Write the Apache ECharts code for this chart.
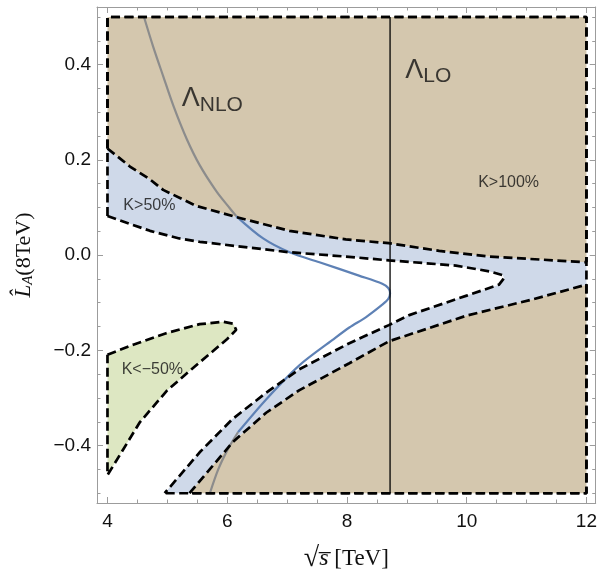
<!DOCTYPE html>
<html><head><meta charset="utf-8">
<script src="https://cdn.jsdelivr.net/npm/echarts@6/dist/echarts.min.js"></script>
<style>html,body{margin:0;padding:0;background:#fff}#c{width:600px;height:578px}</style>
</head><body><div id="c"></div>
<script>
// ---- tick values ----
const xMajorTicks = [4, 6, 8, 10, 12];
const xMinorTicks = [4.5, 5, 5.5, 6.5, 7, 7.5, 8.5, 9, 9.5, 10.5, 11, 11.5];
const yMajorTicks = [-0.4, -0.2, 0, 0.2, 0.4];
const yMinorTicks = [-0.5, -0.45, -0.35, -0.3, -0.25, -0.15, -0.1, -0.05, 0.05, 0.1, 0.15, 0.25, 0.3, 0.35, 0.45, 0.5];

// ---- Λ_NLO curve (gray inside K>100%, blue elsewhere) ----
const nloUpperGray = [[4.61,0.5],[4.76,0.439],[4.93,0.376],[5.10,0.314],[5.32,0.245],[5.54,0.189],[5.82,0.134],[6.04,0.099],[6.15,0.082]];
const nloBlue = [[6.15,0.082],[6.6,0.035],[7.04,0.006],[7.54,-0.015],[8.2,-0.043],[8.59,-0.060],[8.69,-0.069],[8.72,-0.080],[8.69,-0.092],[8.59,-0.104],[8.32,-0.130],[8.04,-0.152],[7.76,-0.178],[7.2,-0.232],[6.65,-0.303],[6.18,-0.372]];
const nloLowerGray = [[6.18,-0.372],[6.0,-0.41],[5.85,-0.45],[5.71,-0.5]];
// ---- Λ_LO line ----
const loLine = [[8.72,0.5],[8.72,-0.5]];

// ---- region boundaries ----
const regionCorners = [[4,0.5],[12,0.5],[12,-0.5]];
const k100Upper = [[4,0.224],[4.375,0.186],[4.7,0.16],[4.93,0.137],[5.21,0.12],[5.49,0.103],[6.15,0.08],[7.04,0.051],[7.98,0.033],[8.7,0.025],[9.54,0.009],[10.37,-0.003],[12,-0.015]];
const k100Lower = [[5.37,-0.5],[6.09,-0.393],[6.65,-0.331],[7.2,-0.284],[8.04,-0.227],[8.7,-0.181],[10.0,-0.127],[11.1,-0.093],[12,-0.062]];
const k50Inner = [[4,0.082],[4.71,0.051],[5.2,0.035],[5.54,0.028],[7.04,0.006],[7.98,-0.003],[8.7,-0.011],[9.82,-0.022],[10.375,-0.034],[10.6,-0.042],[10.625,-0.048],[10.54,-0.062],[10.0,-0.085],[9.04,-0.126],[8.7,-0.147],[8.04,-0.185],[7.2,-0.240],[6.65,-0.289],[6.09,-0.344],[5.54,-0.414],[4.955,-0.5]];
const kNeg50 = [[4,-0.209],[4.43,-0.188],[4.98,-0.164],[5.54,-0.145],[5.93,-0.140],[6.1,-0.144],[6.15,-0.157],[6.0,-0.176],[5.75,-0.203],[5.4,-0.240],[4.99,-0.285],[4.54,-0.351],[4.2,-0.421],[4,-0.462],[4,-0.209]];

// ---- annotations ----
const kTexts = ['K>100%', 'K>50%', 'K<\u221250%'];
const kAnchors = [[10.7,0.152],[4.70,0.103],[4.75,-0.241]];
const lambdaSubs = ['NLO', 'LO'];
const lambdaAnchors = [[5.24,0.328],[8.975,0.388]];

// ---- styles ----
const C_BLUE_FILL = '#CFD9E9', C_BROWN_FILL = '#D4C7AE', C_GREEN_FILL = '#DDE7C2';
const C_NLO_BLUE = '#5E81B5', C_NLO_GRAY = '#8C8C8C';
const AX = '#9c9c9c';
const SANS = 'Liberation Sans', SERIF = 'Liberation Serif';
const XMIN = 3.825, XMAX = 12.155, YMIN = -0.5205, YMAX = 0.521;

const rev = a => a.slice().reverse();
const bluePoly = [...k100Upper, ...rev(k100Lower), ...rev(k50Inner)];
const brownTopPoly = [regionCorners[0], regionCorners[1], ...rev(k100Upper)];
const brownBottomPoly = [...k100Lower, regionCorners[2]];

function poly(pts, fill) {
  return { type: 'custom', silent: true, clip: false, z: 1, data: [pts[0]],
    renderItem: (p, api) => ({ type: 'polygon', shape: { points: pts.map(q => api.coord(q)) }, style: { fill: fill } }) };
}
function line(pts, color, width, type, z, smooth) {
  return { type: 'line', data: pts, symbol: 'none', showSymbol: false, silent: true, z: z || 3, smooth: smooth || false,
    lineStyle: { color: color, width: width, type: type || 'solid' } };
}
const DASH = [9, 4.5];
const DW = 2.7;

const series = [
  poly(bluePoly, C_BLUE_FILL),
  poly(brownTopPoly, C_BROWN_FILL),
  poly(brownBottomPoly, C_BROWN_FILL),
  poly(kNeg50, C_GREEN_FILL),
  line(nloUpperGray, C_NLO_GRAY, 2.2, 'solid', 3, 0.3),
  line(nloBlue, C_NLO_BLUE, 2.2, 'solid', 3, 0.3),
  line(nloLowerGray, C_NLO_GRAY, 2.2, 'solid', 3, 0.3),
  line(loLine, '#000', 1.3, 'solid', 3),
  // K>50% outline (incl. frame parts)
  line([k50Inner[0], regionCorners[0], regionCorners[1], regionCorners[2], k50Inner[k50Inner.length-1]], '#000', DW, DASH, 4),
  line(k50Inner, '#000', DW, DASH, 4),
  // K>100% outline
  line([k100Upper[0], regionCorners[0], regionCorners[1], k100Upper[k100Upper.length-1]], '#000', DW, DASH, 4),
  line(k100Upper, '#000', DW, DASH, 4),
  line([k100Lower[k100Lower.length-1], regionCorners[2], k100Lower[0]], '#000', DW, DASH, 4),
  line(k100Lower, '#000', DW, DASH, 4),
  // K<-50% outline
  line(kNeg50, '#000', DW, DASH, 4),
  // K labels
  { type: 'scatter', silent: true, z: 6, symbolSize: 0,
    data: kTexts.map((t, i) => ({ value: kAnchors[i], name: t })),
    label: { show: true, position: 'inside', formatter: p => p.name, fontSize: 16, fontFamily: SANS, color: '#111' } },
  // Λ labels
  { type: 'scatter', silent: true, z: 6, symbolSize: 0,
    data: lambdaSubs.map((t, i) => ({ value: lambdaAnchors[i], name: t })),
    label: { show: true, position: 'inside', align: 'left', verticalAlign: 'middle',
      formatter: p => '{a|\u039B}{b|' + p.name + '}',
      rich: { a: { fontSize: 27, fontFamily: SANS, color: '#111' },
              b: { fontSize: 21, fontFamily: SANS, color: '#111', padding: [12, 0, 0, 0] } } } }
];

function xAxis(pos, ticks, len, main) {
  return { type: 'value', position: pos, min: XMIN, max: XMAX, gridIndex: 0,
    axisLine: { show: main !== undefined, onZero: false, lineStyle: { color: AX, width: 1 } },
    axisTick: { show: true, inside: true, length: len, customValues: ticks, lineStyle: { color: AX, width: 1 } },
    axisLabel: main === 'label' ? { show: true, customValues: ticks, margin: 9, fontSize: 19, fontFamily: SANS, color: '#111', formatter: v => String(v) } : { show: false },
    splitLine: { show: false }, axisPointer: { show: false } };
}
function yAxis(pos, ticks, len, main) {
  return { type: 'value', position: pos, min: YMIN, max: YMAX, gridIndex: 0,
    axisLine: { show: main !== undefined, onZero: false, lineStyle: { color: AX, width: 1 } },
    axisTick: { show: true, inside: true, length: len, customValues: ticks, lineStyle: { color: AX, width: 1 } },
    axisLabel: main === 'label' ? { show: true, customValues: ticks, margin: 6, fontSize: 19, fontFamily: SANS, color: '#111',
      formatter: v => (v < -1e-9 ? '\u2212' : '') + Math.abs(v).toFixed(1) } : { show: false },
    splitLine: { show: false }, axisPointer: { show: false } };
}

const xs = [xAxis('bottom', xMajorTicks, 6, 'label'), xAxis('bottom', xMinorTicks, 3.5), xAxis('top', xMajorTicks, 6, 'line'), xAxis('top', xMinorTicks, 3.5)];
const ys = [yAxis('left', yMajorTicks, 6, 'label'), yAxis('left', yMinorTicks, 3.5), yAxis('right', yMajorTicks, 6, 'line'), yAxis('right', yMinorTicks, 3.5)];

xs[0].name = '{r|\u221A}{s|s\u0305}{t| [TeV]}';
xs[0].nameLocation = 'middle';
xs[0].nameGap = 42;
xs[0].nameTextStyle = { color: '#111', fontFamily: SERIF, fontSize: 22,
  rich: { r: { fontSize: 28, fontFamily: SERIF, color: '#111' }, s: { fontSize: 24, fontStyle: 'italic', fontFamily: SERIF, color: '#111' }, t: { fontSize: 23, fontFamily: SERIF, color: '#111' } } };
ys[0].name = '{L|L\u0302}{A|A}{t|(8TeV)}';
ys[0].nameLocation = 'middle';
ys[0].nameRotate = 90;
ys[0].nameGap = 61;
ys[0].nameTextStyle = { color: '#111', fontFamily: SERIF, fontSize: 22,
  rich: { L: { fontSize: 23, fontStyle: 'italic', fontFamily: SERIF, color: '#111' }, A: { fontSize: 15, fontStyle: 'italic', fontFamily: SERIF, color: '#111', padding: [9, 0, 0, 0] }, t: { fontSize: 22, fontFamily: SERIF, color: '#111' } } };

const chart = echarts.init(document.getElementById('c'), null, { renderer: 'canvas' });
chart.setOption({
  animation: false,
  backgroundColor: '#fff',
  grid: { left: 97, top: 7, right: 3, bottom: 70, containLabel: false },
  xAxis: xs,
  yAxis: ys,
  series: series
});
</script></body></html>
